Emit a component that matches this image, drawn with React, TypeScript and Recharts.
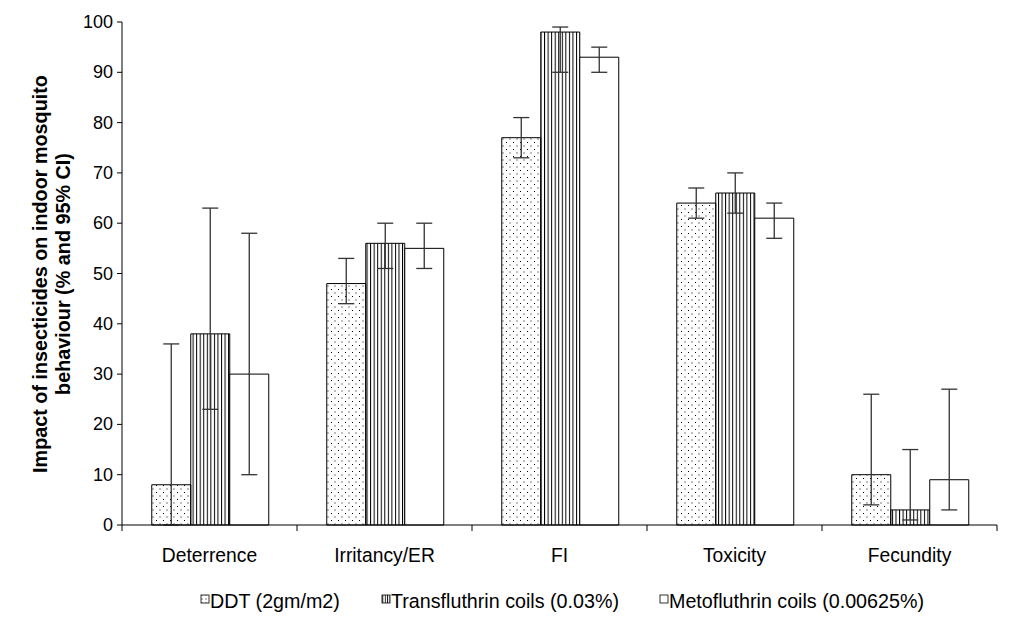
import React from 'react';
import { BarChart, Bar, XAxis, YAxis, ErrorBar, Legend } from 'recharts';

const categories = ['Deterrence', 'Irritancy/ER', 'FI', 'Toxicity', 'Fecundity'];
const ddt = [8, 48, 77, 64, 10];
const ddtLow = [0, 44, 73, 61, 4];
const ddtHigh = [36, 53, 81, 67, 26];
const trans = [38, 56, 98, 66, 3];
const transLow = [23, 51, 90, 62, 1];
const transHigh = [63, 60, 99, 70, 15];
const meto = [30, 55, 93, 61, 9];
const metoLow = [10, 51, 90, 57, 3];
const metoHigh = [58, 60, 95, 64, 27];
const yTicks = [0, 10, 20, 30, 40, 50, 60, 70, 80, 90, 100];
const seriesNames = ['DDT (2gm/m2)', 'Transfluthrin coils (0.03%)', 'Metofluthrin coils (0.00625%)'];

const data = categories.map((c, i) => ({
  name: c,
  ddt: ddt[i],
  ddtErr: [ddt[i] - ddtLow[i], ddtHigh[i] - ddt[i]],
  trans: trans[i],
  transErr: [trans[i] - transLow[i], transHigh[i] - trans[i]],
  meto: meto[i],
  metoErr: [meto[i] - metoLow[i], metoHigh[i] - meto[i]],
}));

const W = 1001;
const H = 608;
const M = { top: 14, right: 12, left: 0, bottom: 0 };
const YW = 114;
const HALF_BAND = (W - M.right - YW) / categories.length / 2;
const FONT = '"Liberation Sans", Arial, sans-serif';

const XTick = (props: any) => {
  const { x, y, payload, index } = props;
  const axisY = y - 8;
  return (
    <g>
      <line x1={x - HALF_BAND} y1={axisY} x2={x - HALF_BAND} y2={axisY + 6} stroke="#000" />
      {index === categories.length - 1 && (
        <line x1={x + HALF_BAND} y1={axisY} x2={x + HALF_BAND} y2={axisY + 6} stroke="#000" />
      )}
      <text x={x} y={axisY + 37} textAnchor="middle" fontSize={19.3} fontFamily={FONT} fill="#000">
        {payload.value}
      </text>
    </g>
  );
};

const YTick = (props: any) => {
  const { x, y, payload } = props;
  return (
    <text x={x - 2} y={y + 6} textAnchor="end" fontSize={18} fontFamily={FONT} fill="#000">
      {payload.value}
    </text>
  );
};

const fills = ['url(#dots)', 'url(#vlines)', '#fff'];

const LegendContent = () => {
  const xs = [193, 374, 652];
  return (
    <svg width={W} height={43} style={{ display: 'block' }}>
      <defs>
        <pattern id="ldots" width="4" height="4" patternUnits="userSpaceOnUse">
          <rect x="1.5" y="1.5" width="1" height="1" fill="#000" />
        </pattern>
        <pattern id="lvlines" width="2.4" height="4" patternUnits="userSpaceOnUse">
          <rect x="0" y="0" width="0.9" height="4" fill="#000" />
        </pattern>
      </defs>
      {seriesNames.map((n, i) => (
        <g key={n}>
          <rect x={xs[i]} y={22} width={8} height={8} fill={['url(#ldots)', 'url(#lvlines)', '#fff'][i]} stroke="#000" strokeWidth={0.8} />
          <text x={xs[i] + 9} y={35} fontSize={19.7} fontFamily={FONT} fill="#000">{n}</text>
        </g>
      ))}
    </svg>
  );
};

const YLabel = () => (
  <g fontFamily={FONT} fontWeight="bold" fontSize={19.8} fill="#000">
    <text transform="translate(39, 266) rotate(-90)" textAnchor="middle">Impact of insecticides on indoor mosquito</text>
    <text transform="translate(62, 266) rotate(-90)" textAnchor="middle">behaviour (% and 95% CI)</text>
  </g>
);

export default function App() {
  return (
    <div style={{ width: W, height: H, background: '#fff' }}>
      <BarChart width={W} height={H} data={data} margin={M} barCategoryGap="17%" barGap={0}>
        <defs>
          <pattern id="dots" width="7" height="7" patternUnits="userSpaceOnUse">
            <rect x="1" y="1" width="1" height="1" fill="#000" />
            <rect x="4.5" y="4.5" width="1" height="1" fill="#000" />
          </pattern>
          <pattern id="vlines" width="3.55" height="10" patternUnits="userSpaceOnUse">
            <rect x="0" y="0" width="1" height="10" fill="#000" />
          </pattern>
        </defs>
        <XAxis
          dataKey="name"
          tick={<XTick />}
          tickLine={false}
          axisLine={{ stroke: '#000' }}
          height={48}
          interval={0}
        />
        <YAxis
          domain={[0, 100]}
          ticks={yTicks}
          width={YW}
          tick={<YTick />}
          tickLine={{ stroke: '#000' }}
          tickSize={5}
          axisLine={{ stroke: '#000' }}
          interval={0}
        />
        <Legend verticalAlign="bottom" height={43} content={<LegendContent />} />
        <Bar dataKey="ddt" fill={fills[0]} stroke="#000" strokeWidth={1} isAnimationActive={false}>
          <ErrorBar dataKey="ddtErr" width={8} stroke="#333" strokeWidth={1.3} />
        </Bar>
        <Bar dataKey="trans" fill={fills[1]} stroke="#000" strokeWidth={1} isAnimationActive={false}>
          <ErrorBar dataKey="transErr" width={8} stroke="#333" strokeWidth={1.3} />
        </Bar>
        <Bar dataKey="meto" fill={fills[2]} stroke="#000" strokeWidth={1} isAnimationActive={false}>
          <ErrorBar dataKey="metoErr" width={8} stroke="#333" strokeWidth={1.3} />
        </Bar>
        <YLabel />
      </BarChart>
    </div>
  );
}
